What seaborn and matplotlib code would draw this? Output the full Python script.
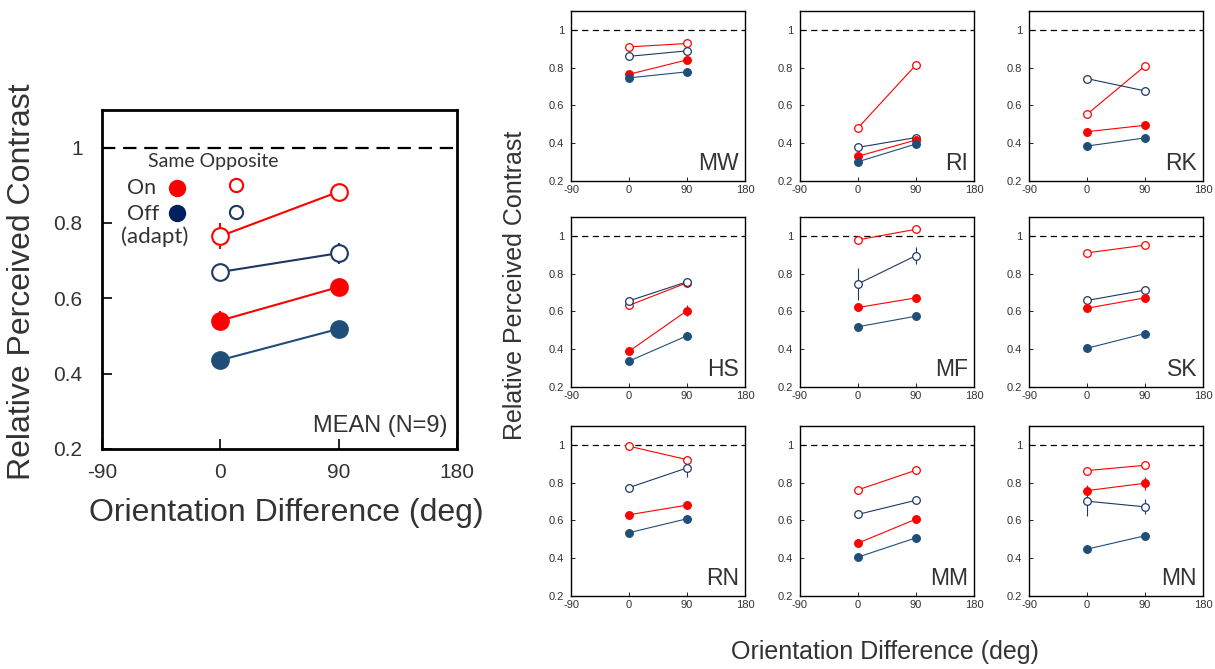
import matplotlib
matplotlib.use('Agg')
import matplotlib.pyplot as plt
import numpy as np
import pandas as pd
import seaborn as sns

orientation = [0, 90]
panel_names = ['MW', 'RI', 'RK', 'HS', 'MF', 'SK', 'RN', 'MM', 'MN']
conditions = ['on_opp', 'off_opp', 'on_same', 'off_same']
xtick_values = [-90, 0, 90, 180]
ytick_values = [0.2, 0.4, 0.6, 0.8, 1.0]
ytick_labels = ['0.2', '0.4', '0.6', '0.8', '1']

# mean over observers (N=9)
mean_on_same = [0.541, 0.630]
mean_off_same = [0.436, 0.519]
mean_on_opp = [0.765, 0.883]
mean_off_opp = [0.670, 0.720]
mean_on_same_err = [0.026, 0.015]
mean_off_same_err = [0.010, 0.010]
mean_on_opp_err = [0.034, 0.015]
mean_off_opp_err = [0.022, 0.028]

# individual observers, same order as panel_names
on_same = [[0.765, 0.841], [0.331, 0.417], [0.461, 0.495], [0.389, 0.604], [0.621, 0.672],
           [0.617, 0.672], [0.630, 0.681], [0.480, 0.607], [0.758, 0.797]]
off_same = [[0.746, 0.778], [0.302, 0.396], [0.385, 0.428], [0.337, 0.471], [0.519, 0.575],
            [0.405, 0.483], [0.535, 0.609], [0.406, 0.508], [0.448, 0.519]]
on_opp = [[0.910, 0.928], [0.481, 0.815], [0.553, 0.809], [0.632, 0.752], [0.979, 1.035],
          [0.910, 0.951], [0.993, 0.922], [0.762, 0.866], [0.864, 0.892]]
off_opp = [[0.860, 0.889], [0.378, 0.430], [0.742, 0.677], [0.656, 0.757], [0.746, 0.896],
           [0.658, 0.713], [0.774, 0.878], [0.632, 0.707], [0.702, 0.672]]
on_same_err = [[0, 0], [0, 0], [0, 0], [0, 0.03], [0, 0], [0, 0], [0, 0], [0, 0], [0.03, 0.035]]
off_same_err = [[0, 0], [0, 0], [0, 0], [0, 0], [0, 0], [0, 0], [0, 0], [0, 0], [0, 0]]
on_opp_err = [[0, 0], [0, 0], [0, 0], [0, 0], [0, 0], [0, 0], [0, 0], [0, 0], [0, 0]]
off_opp_err = [[0, 0], [0, 0], [0, 0], [0, 0], [0.085, 0.045], [0, 0], [0, 0.05], [0, 0], [0.08, 0.04]]

RED = '#FF0000'
BLUE_FILL = '#1F4E79'
BLUE_OPEN = '#1F3864'
TEXT = '#333333'
STYLES = {
    'on_opp': (RED, False),
    'off_opp': (BLUE_OPEN, False),
    'on_same': (RED, True),
    'off_same': (BLUE_FILL, True),
}

W, H = 1215, 669


def px_rect(left, top, width, height):
    return [left / W, 1 - (top + height) / H, width / W, height / H]


def long_table(series, errs, panel):
    rows = []
    for cond in conditions:
        for x, y, e in zip(orientation, series[cond], errs[cond]):
            rows.append({'panel': panel, 'condition': cond, 'orientation': x, 'contrast': y, 'err': e})
    return rows


def draw_series(ax, df, ms, lw, mew):
    for cond in conditions:
        color, filled = STYLES[cond]
        sub = df[df['condition'] == cond]
        ax.errorbar(sub['orientation'], sub['contrast'], yerr=sub['err'], fmt='none',
                    ecolor=color, elinewidth=lw, capsize=0, zorder=2)
        sns.lineplot(data=sub, x='orientation', y='contrast', color=color, linewidth=lw,
                     marker='o', markersize=ms, markerfacecolor=color if filled else 'white',
                     markeredgecolor=color, markeredgewidth=mew, errorbar=None,
                     legend=False, zorder=3, ax=ax)


def style_axes(ax, spine_lw, tick_len, pad_x, pad_y, fs, dash, dash_lw):
    ax.axhline(1.0, color='black', lw=dash_lw, ls=(0, dash), zorder=1)
    ax.set_xlim(-90, 180)
    ax.set_ylim(0.2, 1.1)
    ax.set_xticks(xtick_values)
    ax.set_yticks(ytick_values)
    ax.set_yticklabels(ytick_labels)
    ax.set_xlabel('')
    ax.set_ylabel('')
    for sp in ax.spines.values():
        sp.set_visible(True)
        sp.set_linewidth(spine_lw)
        sp.set_color('black')
    ax.tick_params(axis='both', direction='in', length=tick_len, width=spine_lw * 0.6,
                   labelsize=fs, colors='black', labelcolor=TEXT)
    ax.tick_params(axis='x', pad=pad_x)
    ax.tick_params(axis='y', pad=pad_y)


sns.set_theme(style='ticks')
plt.rcParams['font.family'] = ['Liberation Sans', 'DejaVu Sans']
plt.rcParams['axes.unicode_minus'] = False

fig = plt.figure(figsize=(W / 100, H / 100), dpi=100)

# ---- mean panel
mean_series = {'on_same': mean_on_same, 'off_same': mean_off_same,
               'on_opp': mean_on_opp, 'off_opp': mean_off_opp}
mean_errs = {'on_same': mean_on_same_err, 'off_same': mean_off_same_err,
             'on_opp': mean_on_opp_err, 'off_opp': mean_off_opp_err}
mean_df = pd.DataFrame(long_table(mean_series, mean_errs, 'MEAN'))

ax0 = fig.add_axes(px_rect(102, 110, 355, 339))
draw_series(ax0, mean_df, ms=12, lw=1.5, mew=1.5)
style_axes(ax0, spine_lw=2, tick_len=7, pad_x=10, pad_y=14, fs=15, dash=(6, 3.5), dash_lw=1.6)
ax0.text(0.972, 0.05, 'MEAN (N=9)', transform=ax0.transAxes, ha='right', va='baseline',
         fontsize=17, color=TEXT)

# legend key drawn by hand: rows On/Off, columns Same/Opposite
leg_font = ['Lato', 'DejaVu Sans']
ax0.text(0.130, 0.847, 'Same Opposite', transform=ax0.transAxes, ha='left', va='center',
         fontsize=14, color=TEXT, family=leg_font)
ax0.text(0.070, 0.770, 'On', transform=ax0.transAxes, ha='left', va='center',
         fontsize=15.5, color=TEXT, family=leg_font)
ax0.text(0.070, 0.693, 'Off', transform=ax0.transAxes, ha='left', va='center',
         fontsize=15.5, color=TEXT, family=leg_font)
ax0.text(0.054, 0.625, '(adapt)', transform=ax0.transAxes, ha='left', va='center',
         fontsize=16, color=TEXT, family=leg_font)
ax0.plot([0.211], [0.770], 'o', ms=11.5, color=RED, transform=ax0.transAxes)
ax0.plot([0.211], [0.696], 'o', ms=11.5, color='#002060', transform=ax0.transAxes)
ax0.plot([0.377], [0.779], 'o', ms=9.5, mfc='white', mec=RED, mew=1.5, transform=ax0.transAxes)
ax0.plot([0.377], [0.699], 'o', ms=9.5, mfc='white', mec=BLUE_OPEN, mew=1.5, transform=ax0.transAxes)

fig.text(22 / W, 1 - 282 / H, 'Relative Perceived Contrast', rotation=90, ha='center', va='center',
         fontsize=23, color=TEXT)
fig.text(286 / W, 1 - 513 / H, 'Orientation Difference (deg)', ha='center', va='center',
         fontsize=23, color=TEXT)

# ---- individual observers
col_left = [571, 800, 1029]
row_top = [11, 217, 426]
for i, name in enumerate(panel_names):
    series = {'on_same': on_same[i], 'off_same': off_same[i], 'on_opp': on_opp[i], 'off_opp': off_opp[i]}
    errs = {'on_same': on_same_err[i], 'off_same': off_same_err[i],
            'on_opp': on_opp_err[i], 'off_opp': off_opp_err[i]}
    df = pd.DataFrame(long_table(series, errs, name))
    ax = fig.add_axes(px_rect(col_left[i % 3], row_top[i // 3], 174, 170))
    draw_series(ax, df, ms=5.5, lw=0.8, mew=0.9)
    style_axes(ax, spine_lw=1, tick_len=3, pad_x=3, pad_y=5, fs=8, dash=(5, 3.5), dash_lw=0.9)
    ax.text(0.966, 0.065, name, transform=ax.transAxes, ha='right', va='baseline',
            fontsize=16.5, color=TEXT)

fig.text(515 / W, 1 - 285 / H, 'Relative Perceived Contrast', rotation=90, ha='center', va='center',
         fontsize=18, color=TEXT)
fig.text(885 / W, 1 - 652 / H, 'Orientation Difference (deg)', ha='center', va='center',
         fontsize=18, color=TEXT)

fig.savefig('out.png', dpi=100)
